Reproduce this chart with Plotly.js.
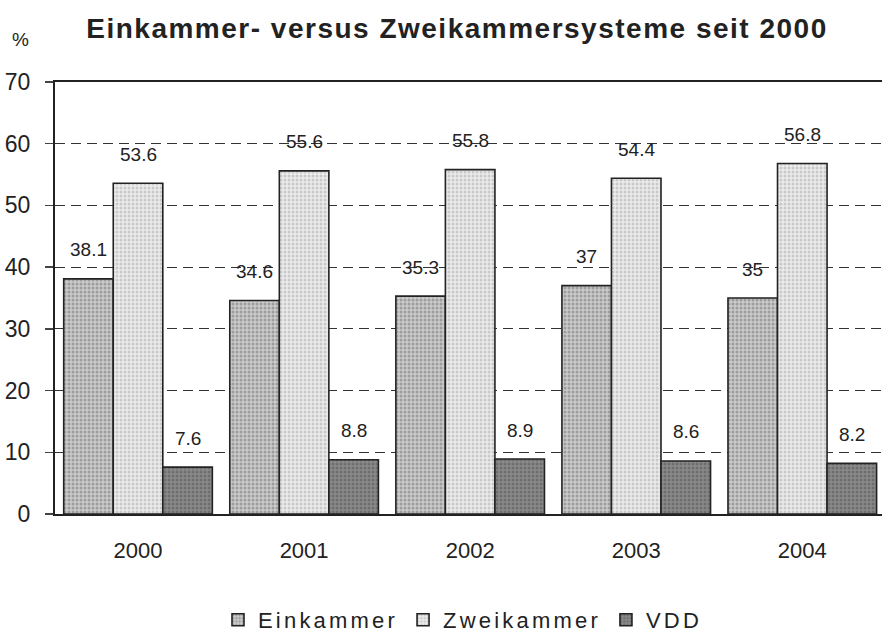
<!DOCTYPE html>
<html>
<head>
<meta charset="utf-8">
<script src="https://cdn.plot.ly/plotly-3.0.1.min.js"></script>
<style>
html,body{margin:0;padding:0;background:#fff;}
#chart{width:882px;height:635px;}
.gtitle{letter-spacing:1.5px;}
text.legendtext{letter-spacing:3.2px;}
</style>
</head>
<body>
<div id="chart"></div>
<script>
var years = ["2000", "2001", "2002", "2003", "2004"];
var einkammer = [38.1, 34.6, 35.3, 37, 35];
var zweikammer = [53.6, 55.6, 55.8, 54.4, 56.8];
var vdd = [7.6, 8.8, 8.9, 8.6, 8.2];
var yTicks = [0, 10, 20, 30, 40, 50, 60, 70];

var FONT = "Liberation Sans, Arial, sans-serif";
var xIdx = years.map(function (d, i) { return i; });
var bargap = 0.105;
var bw = (1 - bargap) / 3;

var seriesDefs = [
  {name: "Einkammer", vals: einkammer, bg: "#cbcbcb", fg: "#9c9c9c", off: -bw},
  {name: "Zweikammer", vals: zweikammer, bg: "#ececec", fg: "#c9c9c9", off: 0},
  {name: "VDD", vals: vdd, bg: "#8a8a8a", fg: "#6e6e6e", off: bw}
];

var traces = seriesDefs.map(function (s) {
  return {
    type: "bar",
    name: s.name,
    x: xIdx,
    y: s.vals,
    marker: {
      color: s.bg,
      line: {color: "#222", width: 1.6},
      pattern: {shape: ".", bgcolor: s.bg, fgcolor: s.fg, size: 4, solidity: 0.45}
    },
    hoverinfo: "skip"
  };
});

var annotations = [];
seriesDefs.forEach(function (s) {
  s.vals.forEach(function (v, i) {
    annotations.push({
      x: i + s.off, y: v, xref: "x", yref: "y",
      text: String(v), showarrow: false, yshift: 29,
      xanchor: "center", yanchor: "middle",
      font: {family: FONT, size: 19, color: "#222"}
    });
  });
});
annotations.push({
  x: (20 - 55) / 827, y: (514 - 40) / 432, xref: "paper", yref: "paper",
  text: "%", showarrow: false, xanchor: "center", yanchor: "middle",
  font: {family: FONT, size: 19, color: "#222"}
});

var xr = [-0.5, 4.48];
var bounds = [0.5, 1.5, 2.5, 3.5];

var layout = {
  width: 882, height: 635,
  margin: {l: 55, r: 0, t: 82, b: 121, pad: 0},
  paper_bgcolor: "#fff", plot_bgcolor: "#fff",
  font: {family: FONT, color: "#222"},
  barmode: "group", bargap: bargap, bargroupgap: 0,
  title: {
    text: "<b>Einkammer- versus Zweikammersysteme seit 2000</b>",
    x: 457 / 882, xanchor: "center", xref: "container",
    y: 1 - 28 / 635, yanchor: "middle", yref: "container",
    font: {family: FONT, size: 28, color: "#222"}
  },
  xaxis: {
    type: "linear", range: xr, tickmode: "array", tickvals: xIdx, ticktext: years,
    ticks: "", showgrid: false, zeroline: false,
    showline: true, linecolor: "#222", linewidth: 2, mirror: true,
    tickfont: {family: FONT, size: 22, color: "#222"},
    ticklabelstandoff: 16, fixedrange: true
  },
  xaxis2: {
    type: "linear", range: xr, overlaying: "x", anchor: "y",
    tickmode: "array", tickvals: bounds, ticks: "outside", ticklen: 8, tickwidth: 1.5, tickcolor: "#444",
    showticklabels: false, showgrid: false, zeroline: false, showline: false
  },
  xaxis3: {
    type: "linear", range: xr, overlaying: "x", anchor: "y",
    tickmode: "array", tickvals: bounds, ticks: "inside", ticklen: 8, tickwidth: 1.5, tickcolor: "#444",
    showticklabels: false, showgrid: false, zeroline: false, showline: false
  },
  yaxis: {
    range: [0, 70], tickmode: "array", tickvals: yTicks,
    ticks: "outside", ticklen: 8, tickwidth: 1.5, tickcolor: "#444",
    showgrid: true, gridcolor: "#333", gridwidth: 1, griddash: "10px,6px",
    zeroline: false, showline: true, linecolor: "#222", linewidth: 2,
    tickfont: {family: FONT, size: 23, color: "#222"},
    ticklabelstandoff: 10, fixedrange: true
  },
  yaxis2: {
    range: [0, 70], overlaying: "y", anchor: "x", side: "left",
    tickmode: "array", tickvals: yTicks, ticks: "inside", ticklen: 8, tickwidth: 1.5, tickcolor: "#444",
    showticklabels: false, showgrid: false, zeroline: false, showline: false
  },
  showlegend: true,
  legend: {
    orientation: "h", xref: "container", yref: "container",
    x: 218 / 882, xanchor: "left", y: 1 - 620 / 635, yanchor: "middle",
    font: {family: FONT, size: 22, color: "#222"},
    itemwidth: 30, bgcolor: "rgba(0,0,0,0)", traceorder: "normal"
  },
  annotations: annotations
};

Plotly.newPlot("chart", traces, layout, {displayModeBar: false, staticPlot: true});
</script>
</body>
</html>
